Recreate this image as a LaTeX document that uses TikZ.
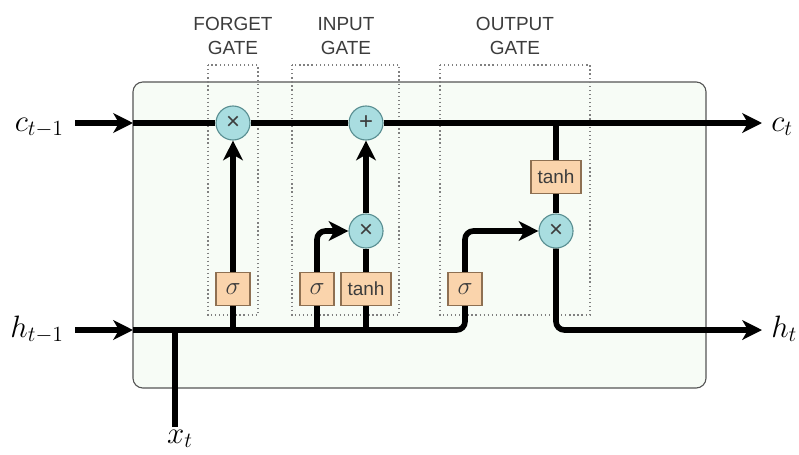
\RequirePackage{fix-cm}
\documentclass[tikz,border=0pt]{standalone}
\usepackage{fontspec}
\setsansfont{Liberation Sans}
\usetikzlibrary{arrows.meta,positioning}

\definecolor{cellfill}{HTML}{F7FCF6}
\definecolor{cellline}{HTML}{555555}
\definecolor{opfill}{HTML}{A9DDE0}
\definecolor{opline}{HTML}{5A8F92}
\definecolor{actfill}{HTML}{FAD4AC}
\definecolor{actline}{HTML}{8E7052}
\definecolor{labelgray}{HTML}{3C3C3C}

\tikzset{
  >={Stealth[length=14pt,width=14pt,inset=4pt]},
  wire/.style={line width=4pt, black},
  op/.style={circle, draw=opline, fill=opfill, line width=0.8pt, minimum size=0.85cm,
    inner sep=0pt, text=labelgray, font=\sffamily\fontsize{17}{17}\selectfont},
  act/.style={rectangle, draw=actline, fill=actfill, line width=0.8pt, minimum width=0.85cm,
    minimum height=0.825cm, inner sep=1pt, text=labelgray, font=\sffamily\fontsize{13.5}{15}\selectfont},
  sigbox/.style={act, font=\fontsize{18}{18}\selectfont},
  gateframe/.style={draw=gray, dotted, line width=0.9pt},
  gatelabel/.style={align=center, text=labelgray, font=\sffamily\fontsize{13.5}{17}\selectfont},
  vec/.style={font=\fontsize{22}{26}\selectfont, inner sep=0pt},
}

\begin{document}
\begin{tikzpicture}[x=0.025cm, y=-0.025cm]
        \useasboundingbox (0,0) rectangle (799,454);

        % cell body and gate regions
        \draw[draw=cellline, fill=cellfill, rounded corners=7pt, line width=0.8pt] (133,82) rectangle (706,388);
        \draw[gateframe] (208,65) rectangle (258,315);
        \draw[gateframe] (292,65) rectangle (399,315);
        \draw[gateframe] (440,65) rectangle (590,315);

        \node[gatelabel] (flabel) at (233,36) {FORGET\\GATE};
        \node[gatelabel] (ilabel) at (346,36) {INPUT\\GATE};
        \node[gatelabel] (olabel) at (515,36) {OUTPUT\\GATE};

        % inputs and outputs
        \node[vec, anchor=base east] (cin) at (64,131) {$c_{t-1}$};
        \node[vec, anchor=base east] (hin) at (64,337) {$h_{t-1}$};
        \node[vec, anchor=base west] (cout) at (771,131) {$c_t$};
        \node[vec, anchor=base west] (hout) at (771,337) {$h_t$};
        \node[vec, anchor=base] (xin) at (180,443) {$x_t$};

        \coordinate (cl) at (75,123);
        \coordinate (hl) at (75,330);
        \coordinate (cinlet) at (133,123);
        \coordinate (hinlet) at (133,330);
        \coordinate (cr) at (762,123);
        \coordinate (hr) at (762,330);
        \coordinate (xb) at (175,427);

        % operations
        \node[op] (fmul) at (233,123) {×};
        \node[op] (iadd) at (366,123) {+};
        \node[op] (imul) at (366,231) {×};
        \node[op] (omul) at (556,231) {×};

        \node[sigbox] (fsig) at (233,289) {$\sigma$};
        \node[sigbox] (isig) at (317,289) {$\sigma$};
        \node[act, minimum width=1.25cm] (itanh) at (366,289) {tanh};
        \node[sigbox] (osig) at (465,289) {$\sigma$};
        \node[act, minimum width=1.25cm] (otanh) at (556,177) {tanh};

        % cell state
        \draw[wire, ->] (cl) -- (cinlet);
        \draw[wire] (cinlet) -- (fmul);
        \draw[wire] (fmul) -- (iadd);
        \draw[wire, ->] (iadd) -- (cr);

        % hidden state and input
        \draw[wire, ->] (hl) -- (hinlet);
        \draw[wire, rounded corners=6pt] (hinlet) -| (osig);
        \draw[wire] (xb) -- (xb |- hinlet);
        \draw[wire] (fsig) -- (fsig |- hinlet);
        \draw[wire] (isig) -- (isig |- hinlet);
        \draw[wire] (itanh) -- (itanh |- hinlet);

        % gates
        \draw[wire, ->] (fsig) -- (fmul);
        \draw[wire, ->, rounded corners=6pt] (isig) |- (imul);
        \draw[wire] (itanh) -- (imul);
        \draw[wire, ->] (imul) -- (iadd);
        \draw[wire, ->, rounded corners=6pt] (osig) |- (omul);
        \draw[wire] (otanh |- cinlet) -- (otanh);
        \draw[wire] (otanh) -- (omul);
        \draw[wire, ->, rounded corners=6pt] (omul) |- (hr);
    \end{tikzpicture}
\end{document}
